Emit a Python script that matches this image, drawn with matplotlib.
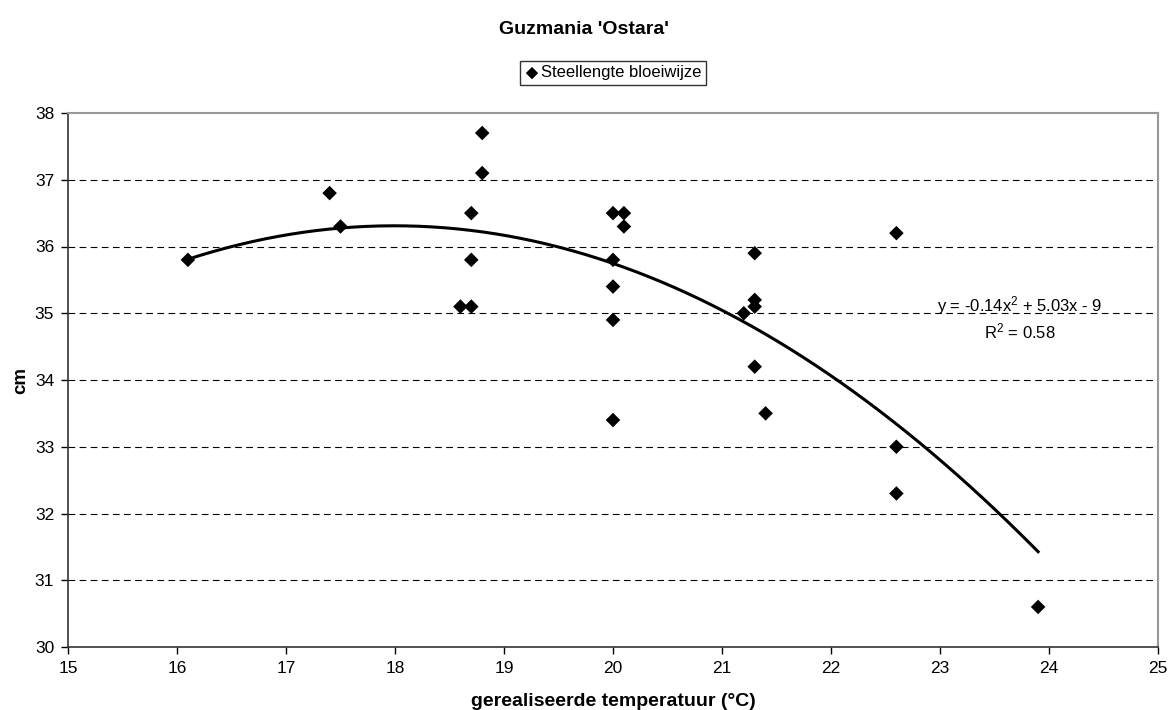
import matplotlib
matplotlib.use("Agg")
import matplotlib.pyplot as plt
import numpy as np

plt.rcParams["font.family"] = ["Liberation Sans", "DejaVu Sans"]
plt.rcParams["mathtext.fontset"] = "custom"
plt.rcParams["mathtext.rm"] = "Liberation Sans"
plt.rcParams["mathtext.it"] = "Liberation Sans"

# gerealiseerde temperatuur (°C) vs steellengte bloeiwijze (cm)
temperature = [16.1, 17.4, 17.5, 18.6, 18.7, 18.7, 18.7, 18.8, 18.8,
               20.0, 20.1, 20.1, 20.0, 20.0, 20.0, 20.0,
               21.3, 21.3, 21.3, 21.2, 21.3, 21.4,
               22.6, 22.6, 22.6, 23.9]
stem_length = [35.8, 36.8, 36.3, 35.1, 35.1, 35.8, 36.5, 37.1, 37.7,
               36.5, 36.5, 36.3, 35.8, 35.4, 34.9, 33.4,
               35.9, 35.2, 35.1, 35.0, 34.2, 33.5,
               36.2, 33.0, 32.3, 30.6]

x_ticks = list(range(15, 26))
y_ticks = list(range(30, 39))

title = "Guzmania 'Ostara'"
series_name = "Steellengte bloeiwijze"
trend_text = "y = -0.14x$^2$ + 5.03x - 9\nR$^2$ = 0.58"

x = np.asarray(temperature)
y = np.asarray(stem_length)
coef = np.polyfit(x, y, 2)
xs = np.linspace(x.min(), x.max(), 200)

fig = plt.figure(figsize=(11.68, 7.10), dpi=100)
ax = fig.add_axes([68 / 1168, 1 - 647 / 710, (1158 - 68) / 1168, (647 - 113) / 710])

for v in y_ticks[1:-1]:
    ax.axhline(v, color="black", linestyle=(0, (6, 4)), linewidth=0.8, zorder=1)

ax.plot(xs, np.polyval(coef, xs), color="black", linewidth=2.2, zorder=2)
ax.scatter(x, y, marker="D", s=55, color="black", edgecolors="none",
           label=series_name, zorder=3)

ax.set_xlim(15, 25)
ax.set_ylim(30, 38)
ax.set_xticks(x_ticks)
ax.set_yticks(y_ticks)
ax.tick_params(direction="out", length=5, width=1, labelsize=12.5, colors="black", pad=5)

for side in ("left", "bottom"):
    ax.spines[side].set_color("#333333")
    ax.spines[side].set_linewidth(1.2)
for side in ("top", "right"):
    ax.spines[side].set_color("#999999")
    ax.spines[side].set_linewidth(1.5)

ax.text(23.73, 34.93, trend_text, ha="center", va="center", fontsize=12,
        linespacing=1.3, zorder=4)

ax.set_xlabel("gerealiseerde temperatuur (°C)", fontsize=14, fontweight="bold", labelpad=12)
ax.set_ylabel("cm", fontsize=13.5, fontweight="bold", labelpad=4)

fig.text(0.5, 1 - 30 / 710, title, ha="center", va="center", fontsize=14, fontweight="bold")

leg = ax.legend(loc="center", bbox_to_anchor=(0.5, 1 + (113 - 73) / (647 - 113)),
                frameon=True, fancybox=False, fontsize=12, handletextpad=0.1,
                borderpad=0.25, handlelength=0.9, markerscale=0.85,
                borderaxespad=0)
leg.get_frame().set_edgecolor("black")
leg.get_frame().set_linewidth(1.0)

fig.savefig("out.png", dpi=100)
